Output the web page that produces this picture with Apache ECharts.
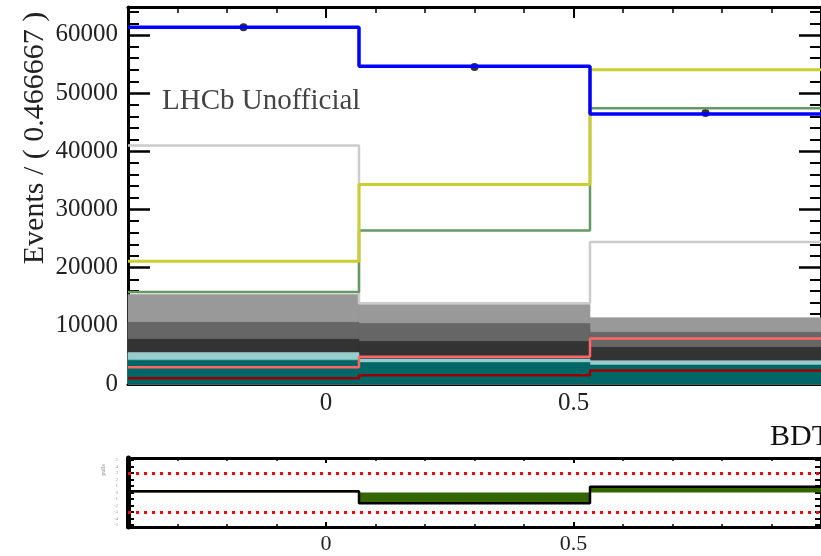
<!DOCTYPE html>
<html><head><meta charset="utf-8">
<script src="https://cdn.jsdelivr.net/npm/echarts@6/dist/echarts.min.js"></script>
<style>html,body{margin:0;padding:0;background:#fff}#c{width:821px;height:556px}</style>
</head><body><div id="c"></div>
<script>
// ---- data ----
const binEdges = [-0.4, 0.066667, 0.533333, 1.0];
const binCenters = [-0.166667, 0.3, 0.766667];
const dataEvents = [61300, 54500, 46600];
const totalFit = [61300, 54600, 46400];
const compLightGray = [41000, 13900, 24400];
const compYellow = [21100, 34300, 54000];
const compGreen = [15800, 26400, 47400];
const fillLightGray = [15400, 13700, 11400];
const fillMidGray = [10600, 10400, 8900];
const fillDarkGray = [7700, 7300, 6300];
const fillCyan = [5400, 4300, 4000];
const fillTeal = [4100, 3700, 3250];
const compSalmon = [2900, 4700, 7800];
const compDarkRed = [1000, 1500, 2300];
const pulls = [0.2, -1.65, 0.9];
const pullLimits = [3, -3];
// ---- ticks / labels ----
const yMajorTicks = [0, 10000, 20000, 30000, 40000, 50000, 60000];
const yMinorTicks = [2000, 4000, 6000, 8000, 12000, 14000, 16000, 18000, 22000, 24000, 26000, 28000, 32000, 34000, 36000, 38000, 42000, 44000, 46000, 48000, 52000, 54000, 56000, 58000, 62000, 64000];
const xMajorTicks = [0, 0.5, 1.0];
const xLabelTicks = [0, 0.5];
const xMinorTicks = [-0.3, -0.2, -0.1, 0.1, 0.2, 0.3, 0.4, 0.6, 0.7, 0.8, 0.9];
const pullTickValues = [-5, -4, -3, -2, -1, 0, 1, 2, 3, 4, 5];

const SERIF = '"Liberation Serif", "Times New Roman", serif';
const plain = v => String(v);

function stepData(vals) {
  return binEdges.map((e, i) => [e, vals[Math.min(i, vals.length - 1)]]);
}
function binData(vals) {
  return vals.map((v, i) => [binEdges[i], binEdges[i + 1], v]);
}
function fillSeries(vals, color) {
  return {
    type: 'custom', xAxisIndex: 0, yAxisIndex: 0, data: binData(vals),
    encode: { x: [0, 1], y: 2 },
    renderItem: function (params, api) {
      const p0 = api.coord([api.value(0), api.value(2)]);
      const p1 = api.coord([api.value(1), 0]);
      return { type: 'rect', shape: { x: p0[0], y: p0[1], width: p1[0] - p0[0], height: p1[1] - p0[1] },
        style: { fill: color, stroke: color, lineWidth: 0.6 } };
    }
  };
}
function lineSeries(vals, color, width) {
  return { type: 'line', step: 'end', data: stepData(vals), showSymbol: false, symbol: 'none',
    lineStyle: { width: width, color: color }, xAxisIndex: 0, yAxisIndex: 0 };
}
function xAx(grid, pos, ticks, len, width, showLine, labels, fontSize, margin) {
  return { type: 'value', gridIndex: grid, position: pos, min: -0.4, max: 1.0,
    axisLine: { show: showLine, onZero: false, lineStyle: { color: '#000', width: 3 } },
    axisTick: { show: true, inside: true, length: len, customValues: ticks, lineStyle: { color: '#000', width: width } },
    axisLabel: labels ? { show: true, customValues: labels, formatter: plain, fontFamily: SERIF, fontSize: fontSize, color: '#222', margin: margin } : { show: false },
    splitLine: { show: false } };
}
function yAx(grid, pos, min, max, ticks, len, width, showLine, lineW, labels, labelStyle) {
  return { type: 'value', gridIndex: grid, position: pos, min: min, max: max,
    axisLine: { show: showLine, onZero: false, lineStyle: { color: '#000', width: lineW } },
    axisTick: { show: true, inside: true, length: len, customValues: ticks, lineStyle: { color: '#000', width: width } },
    axisLabel: labels ? Object.assign({ show: true, customValues: labels, formatter: plain }, labelStyle) : { show: false },
    splitLine: { show: false } };
}

const chart = echarts.init(document.getElementById('c'), null, { renderer: 'canvas' });
const option = {
  animation: false,
  backgroundColor: '#fff',
  grid: [
    { left: 128, top: 7, width: 702, height: 377 },
    { left: 128, top: 458, width: 702, height: 69 }
  ],
  xAxis: [
    xAx(0, 'bottom', xMajorTicks, 11, 2, true, xLabelTicks, 25, 7),
    xAx(0, 'bottom', xMinorTicks, 6, 1.5, false, null),
    xAx(0, 'top', xMajorTicks, 11, 2, true, null),
    xAx(0, 'top', xMinorTicks, 6, 1.5, false, null),
    xAx(1, 'bottom', xMajorTicks, 5, 2, true, xLabelTicks, 22, 6),
    xAx(1, 'bottom', xMinorTicks, 3, 1.5, false, null),
    xAx(1, 'top', xMajorTicks, 5, 2, true, null),
    xAx(1, 'top', xMinorTicks, 3, 1.5, false, null)
  ],
  yAxis: [
    yAx(0, 'left', 0, 64800, yMajorTicks, 22, 2.5, true, 3, yMajorTicks,
      { fontFamily: SERIF, fontSize: 25, color: '#222', margin: 10 }),
    yAx(0, 'left', 0, 64800, yMinorTicks, 11, 2, false, 3, null),
    yAx(0, 'right', 0, 64800, yMajorTicks, 22, 2.5, true, 3, null),
    yAx(0, 'right', 0, 64800, yMinorTicks, 11, 2, false, 3, null),
    yAx(1, 'left', -5.3, 5.3, pullTickValues, 6, 2, true, 5, pullTickValues,
      { fontFamily: SERIF, fontSize: 5, color: '#999', margin: 10 }),
    yAx(1, 'right', -5.3, 5.3, pullTickValues, 6, 2, true, 3, null)
  ],
  series: [
    fillSeries(fillLightGray, '#999999'),
    fillSeries(fillMidGray, '#666666'),
    fillSeries(fillDarkGray, '#333333'),
    fillSeries(fillCyan, '#99cccc'),
    fillSeries(fillTeal, '#006666'),
    lineSeries(compDarkRed, '#990000', 2.5),
    lineSeries(compSalmon, '#ff6666', 2.5),
    lineSeries(compLightGray, '#cccccc', 2.5),
    lineSeries(compGreen, '#669966', 2.5),
    lineSeries(compYellow, '#cccc33', 3),
    lineSeries(totalFit, '#0000ff', 3.5),
    { type: 'scatter', data: binCenters.map((c, i) => [c, dataEvents[i]]), symbol: 'circle', symbolSize: 8,
      itemStyle: { color: '#000' }, xAxisIndex: 0, yAxisIndex: 0 },
    { type: 'line', step: 'end', data: stepData(pulls), showSymbol: false, symbol: 'none',
      lineStyle: { color: '#000', width: 2.5 }, areaStyle: { color: '#336600', opacity: 1 },
      xAxisIndex: 4, yAxisIndex: 4,
      markLine: { silent: true, symbol: 'none', label: { show: false },
        lineStyle: { color: '#ff0000', width: 3, type: [3, 5] },
        data: pullLimits.map(v => ({ yAxis: v })) } }
  ],
  graphic: [
    { type: 'text', x: 162, y: 101, style: { text: 'LHCb Unofficial', font: '29px ' + SERIF, fill: '#444', align: 'left', verticalAlign: 'middle' } },
    { type: 'text', x: 35, y: 138, rotation: Math.PI / 2, style: { text: 'Events / ( 0.466667 )', font: '30px ' + SERIF, fill: '#222', align: 'center', verticalAlign: 'middle' } },
    { type: 'text', x: 830, y: 437, style: { text: 'BDT', font: '30px ' + SERIF, fill: '#111', align: 'right', verticalAlign: 'middle' } },
    { type: 'text', x: 103, y: 470, rotation: Math.PI / 2, style: { text: 'pulls', font: '6px ' + SERIF, fill: '#888', align: 'center', verticalAlign: 'middle' } }
  ]
};
chart.setOption(option);
</script>
</body></html>
